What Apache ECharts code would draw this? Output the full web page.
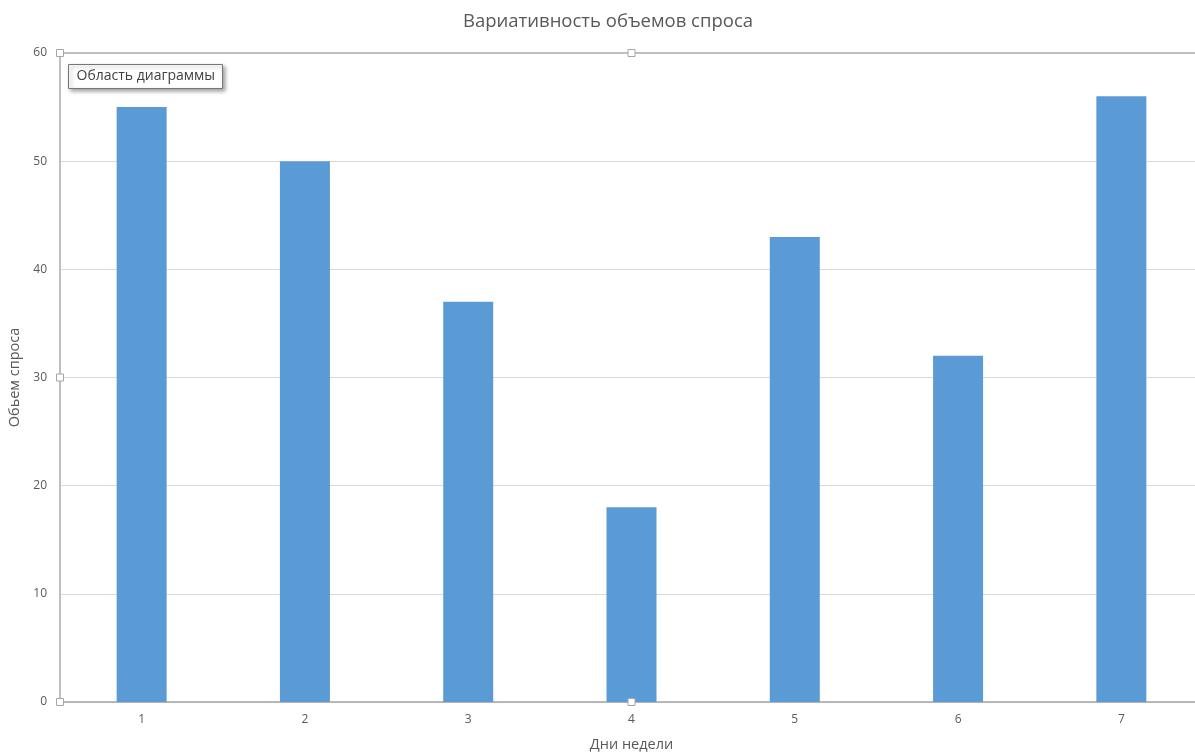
<!DOCTYPE html>
<html>
<head>
<meta charset="utf-8">
<title>Вариативность объемов спроса</title>
<script src="https://cdn.jsdelivr.net/npm/echarts@6/dist/echarts.min.js"></script>
<style>
  html, body { margin: 0; padding: 0; background: #ffffff; }
  #chart { width: 1195px; height: 754px; }
</style>
</head>
<body>
<div id="chart"></div>
<script>
// Days of the week and demand volume per day
const days = ['1', '2', '3', '4', '5', '6', '7'];
const demand = [55, 50, 37, 18, 43, 32, 56];
const yTicks = { min: 0, max: 60, interval: 10 };

const FONT = '"Open Sans", "Noto Sans", sans-serif';
const TEXT = '#595959';

// Plot area geometry (the chart area runs past the right edge of the window)
const plot = { left: 60, top: 53, width: 1143, height: 649 };

// Small square selection handles on the plot area frame
function handle(x, y) {
  return {
    type: 'rect',
    shape: { x: x - 3.5, y: y - 3.5, width: 7, height: 7 },
    style: { fill: '#ffffff', stroke: '#a6a6a6', lineWidth: 1 },
    z: 100
  };
}

// Selection frame edges of the plot area (top and left)
function frameLine(x1, y1, x2, y2) {
  return {
    type: 'line',
    shape: { x1: x1, y1: y1, x2: x2, y2: y2 },
    style: { stroke: '#bfbfbf', lineWidth: 2 },
    z: 90
  };
}

const chart = echarts.init(document.getElementById('chart'), null, { renderer: 'canvas' });

chart.setOption({
  animation: false,
  backgroundColor: '#ffffff',
  title: {
    text: 'Вариативность объемов спроса',
    left: 603,
    top: 7,
    textAlign: 'center',
    textStyle: { fontFamily: FONT, fontSize: 18.5, fontWeight: 'normal', color: TEXT }
  },
  grid: {
    left: plot.left,
    top: plot.top,
    width: plot.width,
    height: plot.height,
    show: false,
    containLabel: false,
    outerBoundsMode: 'none'
  },
  xAxis: {
    type: 'category',
    data: days,
    name: 'Дни недели',
    nameLocation: 'middle',
    nameGap: 35,
    nameTextStyle: { fontFamily: FONT, fontSize: 14.5, color: TEXT },
    axisLine: { lineStyle: { color: '#a6a6a6', width: 1.5 } },
    axisTick: { show: false },
    axisLabel: { fontFamily: FONT, fontSize: 12, color: TEXT, margin: 12 },
    splitLine: { show: false }
  },
  yAxis: {
    type: 'value',
    min: yTicks.min,
    max: yTicks.max,
    interval: yTicks.interval,
    name: 'Обьем спроса',
    nameLocation: 'middle',
    nameGap: 33,
    nameRotate: 90,
    nameTextStyle: { fontFamily: FONT, fontSize: 14.5, color: TEXT },
    axisLine: { show: false },
    axisTick: { show: false },
    axisLabel: { fontFamily: FONT, fontSize: 12, color: TEXT, margin: 13 },
    splitLine: { lineStyle: { color: '#d9d9d9', width: 1 } }
  },
  series: [{
    type: 'bar',
    data: demand,
    barWidth: 50,
    itemStyle: { color: '#5b9bd5' },
    z: 2
  }],
  graphic: [
    frameLine(plot.left, plot.top, plot.left + plot.width, plot.top),
    frameLine(plot.left, plot.top, plot.left, plot.top + plot.height),
    handle(plot.left, plot.top),
    handle(plot.left + plot.width / 2, plot.top),
    handle(plot.left, plot.top + plot.height / 2),
    handle(plot.left, plot.top + plot.height),
    handle(plot.left + plot.width / 2, plot.top + plot.height),
    {
      type: 'group',
      left: 68,
      top: 64,
      z: 120,
      children: [
        {
          type: 'rect',
          shape: { x: 0, y: 0, width: 154, height: 24 },
          style: {
            fill: '#ffffff',
            stroke: '#767676',
            lineWidth: 1,
            shadowBlur: 4,
            shadowOffsetX: 2,
            shadowOffsetY: 2,
            shadowColor: 'rgba(0,0,0,0.35)'
          }
        },
        {
          type: 'text',
          x: 8,
          y: 12,
          style: {
            text: 'Область диаграммы',
            fontFamily: FONT,
            fontSize: 14,
            fill: '#404040',
            verticalAlign: 'middle'
          }
        }
      ]
    }
  ]
});
</script>
</body>
</html>
